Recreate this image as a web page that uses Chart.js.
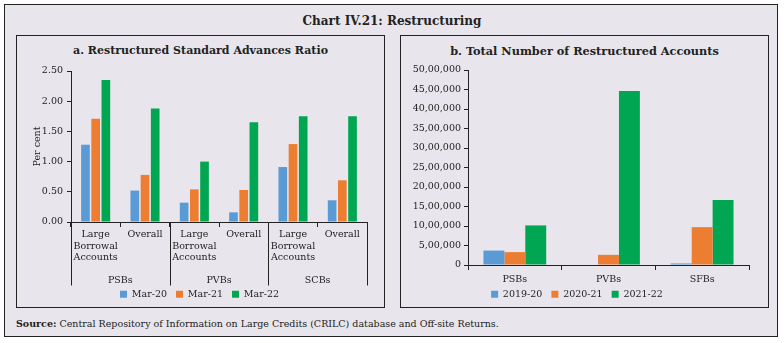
<!DOCTYPE html>
<html>
<head>
<meta charset="utf-8">
<script src="https://cdn.jsdelivr.net/npm/chart.js@4.4.0/dist/chart.umd.min.js"></script>
<style>
  body { margin: 0; background: #fff; font-family: "DejaVu Serif", serif; }
  #frame { position: absolute; left: 4px; top: 4px; width: 772px; height: 331px; border: 1.5px solid #222; background: #e8e6ec; }
  #main-title { position: absolute; left: 0; width: 784px; top: 14px; text-align: center; font-weight: bold; font-size: 12px; color: #222; }
  .panel { position: absolute; border: 1.5px solid #222; background: #e8e6ec; overflow: hidden; }
  #panelA { left: 16px; top: 35px; width: 367px; height: 271px; }
  #panelB { left: 400px; top: 35px; width: 367px; height: 271px; }
  .panel-title { position: absolute; left: 0; right: 0; top: 8px; text-align: center; font-weight: bold; font-size: 11px; color: #222; }
  #panelB .panel-title { font-size: 11.3px; }
  canvas { position: absolute; left: 0; top: 0; }
  #source { position: absolute; left: 16px; top: 318px; font-size: 9.5px; color: #222; }
</style>
</head>
<body>
<div id="frame"></div>
<div id="main-title">Chart IV.21: Restructuring</div>
<div class="panel" id="panelA">
  <div class="panel-title">a. Restructured Standard Advances Ratio</div>
  <canvas id="chartA" width="367" height="273"></canvas>
</div>
<div class="panel" id="panelB">
  <div class="panel-title">b. Total Number of Restructured Accounts</div>
  <canvas id="chartB" width="367" height="273"></canvas>
</div>
<div id="source"><b>Source:</b> Central Repository of Information on Large Credits (CRILC) database and Off-site Returns.</div>

<script>
// Panel a data
const groupsA = ['PSBs', 'PVBs', 'SCBs'];
const categoriesA = [['Large', 'Borrowal', 'Accounts'], 'Overall', ['Large', 'Borrowal', 'Accounts'], 'Overall', ['Large', 'Borrowal', 'Accounts'], 'Overall'];
const mar20 = [1.28, 0.52, 0.32, 0.16, 0.91, 0.36];
const mar21 = [1.71, 0.78, 0.54, 0.53, 1.29, 0.69];
const mar22 = [2.35, 1.88, 1.00, 1.65, 1.75, 1.75];

// Panel b data
const categoriesB = ['PSBs', 'PVBs', 'SFBs'];
const y2019 = [370000, 0, 40000];
const y2020 = [330000, 260000, 970000];
const y2021 = [1015000, 4460000, 1665000];

const BLUE = '#5b9bd5', ORANGE = '#ed7d31', GREEN = '#00a651';
const TXT = '#222';
Chart.defaults.font.family = '"DejaVu Serif", serif';
Chart.defaults.font.size = 9;
Chart.defaults.color = TXT;
Chart.defaults.animation = false;

function indian(v) {
    const s = String(Math.round(v));
    if (s.length <= 3) return s;
    let last3 = s.slice(-3), rest = s.slice(0, -3);
    rest = rest.replace(/\B(?=(\d{2})+(?!\d))/g, ',');
    return rest + ',' + last3;
}

// small vertical padding, a bit more room between the items
const legendOpts = {
    position: 'bottom',
    labels: {
        boxWidth: 7, boxHeight: 7, padding: 3, font: { size: 9.5 },
        generateLabels(chart) {
            const items = Chart.defaults.plugins.legend.labels.generateLabels(chart);
            items.forEach((it, i) => { if (i < items.length - 1) it.text += '  '; });
            return items;
        }
    }
};

// long separator lines between the bank groups
const groupLines = {
    id: 'groupLines',
    afterDraw(chart) {
        const x = chart.scales.x, x2 = chart.scales.x2;
        const ctx = chart.ctx;
        const n = categoriesA.length;
        const step = (x.right - x.left) / n;
        ctx.save();
        ctx.strokeStyle = TXT;
        ctx.lineWidth = 1;
        for (let i = 0; i <= n; i += 2) {
            const px = Math.round(x.left + i * step) + 0.5;
            ctx.beginPath();
            ctx.moveTo(px, x.top);
            ctx.lineTo(px, x2.bottom - 1);
            ctx.stroke();
        }
        ctx.restore();
    }
};

new Chart(document.getElementById('chartA'), {
    type: 'bar',
    data: {
        labels: categoriesA,
        datasets: [
            { label: 'Mar-20', data: mar20, backgroundColor: BLUE },
            { label: 'Mar-21', data: mar21, backgroundColor: ORANGE },
            { label: 'Mar-22', data: mar22, backgroundColor: GREEN }
        ]
    },
    options: {
        responsive: false,
        layout: { padding: { top: 35, right: 17, left: 15, bottom: 0 } },
        datasets: { bar: { barPercentage: 0.85, categoryPercentage: 0.62 } },
        plugins: { legend: legendOpts, tooltip: { enabled: false } },
        scales: {
            y: {
                min: 0, max: 2.5,
                ticks: { stepSize: 0.5, callback: v => v.toFixed(2), padding: 4, font: { size: 9.5 } },
                grid: { drawOnChartArea: false, tickLength: 4, color: TXT },
                border: { color: TXT },
                title: { display: true, text: 'Per cent', font: { size: 9.5 }, padding: 0 },
                afterFit: s => { s.width = 39; }
            },
            x: {
                grid: { drawOnChartArea: false, offset: true, tickLength: 5, color: TXT },
                border: { color: TXT },
                ticks: { maxRotation: 0, autoSkip: false, padding: 2, font: { size: 9.5 } },
                afterFit: s => { s.height = 53; }
            },
            x2: {
                type: 'category',
                labels: groupsA,
                position: 'bottom',
                grid: { display: false, drawTicks: false },
                border: { display: false },
                ticks: { padding: 0, font: { size: 9.5 } },
                afterFit: s => { s.height = 11.5; }
            }
        }
    },
    plugins: [groupLines]
});

new Chart(document.getElementById('chartB'), {
    type: 'bar',
    data: {
        labels: categoriesB,
        datasets: [
            { label: '2019-20', data: y2019, backgroundColor: BLUE },
            { label: '2020-21', data: y2020, backgroundColor: ORANGE },
            { label: '2021-22', data: y2021, backgroundColor: GREEN }
        ]
    },
    options: {
        responsive: false,
        layout: { padding: { top: 34, right: 19, left: 4, bottom: 0 } },
        datasets: { bar: { barPercentage: 1, categoryPercentage: 0.67 } },
        plugins: { legend: legendOpts, tooltip: { enabled: false } },
        scales: {
            y: {
                min: 0, max: 5000000,
                ticks: { stepSize: 500000, callback: v => indian(v), padding: 3, font: { size: 9.5 } },
                grid: { drawOnChartArea: false, tickLength: 4, color: TXT },
                border: { color: TXT },
                afterFit: s => { s.width = 63; }
            },
            x: {
                grid: { drawOnChartArea: false, offset: true, tickLength: 5, color: TXT },
                border: { color: TXT },
                ticks: { padding: 4, font: { size: 9.5 } },
                afterFit: s => { s.height = 21.5; }
            }
        }
    }
});
</script>
</body>
</html>
